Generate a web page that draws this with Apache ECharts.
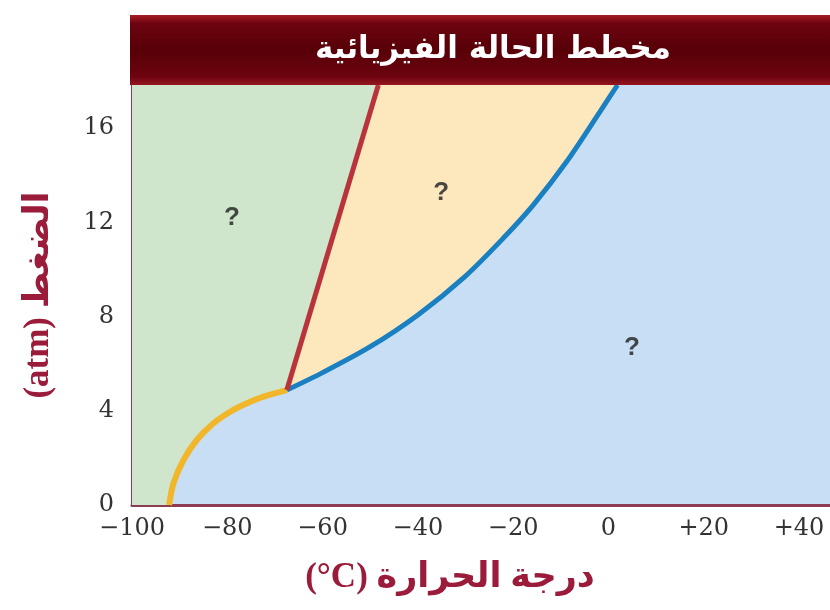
<!DOCTYPE html>
<html><head><meta charset="utf-8">
<script src="https://cdn.jsdelivr.net/npm/echarts@6/dist/echarts.min.js"></script>
<style>html,body{margin:0;padding:0;background:#fff}#c{width:830px;height:610px}</style>
</head><body><div id="c"></div><script>
// ---- data ----
const chartTitle = 'مخطط الحالة الفيزيائية';
const xAxisName = '(°C) درجة الحرارة';
const yAxisName = '(atm) الضغط';
const xTicks = [-100, -80, -60, -40, -20, 0, 20, 40];
const xTickLabels = ['−100', '−80', '−60', '−40', '−20', '0', '+20', '+40'];
const yTicks = [0, 4, 8, 12, 16];
const yTickLabels = ['0', '4', '8', '12', '16'];
const xRange = [-100, 46.5];
const yRange = [0, 17.83];
// sublimation curve (solid / gas)
const sublimationCurve = [[-92.2, 0], [-91.3, 0.92], [-89.2, 1.91], [-86.4, 2.76], [-82.9, 3.47], [-79.4, 3.96], [-75.9, 4.32], [-72.4, 4.60], [-67.5, 4.88]];
// melting line (solid / liquid)
const meltingLine = [[-67.5, 4.88], [-48.3, 17.83]];
// vaporization curve (liquid / gas)
const vaporizationCurve = [[-67.5, 4.88], [-60.0, 5.62], [-50.0, 6.72], [-40.0, 8.07], [-30.0, 9.72], [-22.1, 11.32], [-15.8, 12.73], [-8.8, 14.57], [-1.8, 16.69], [1.9, 17.83]];
// phase labels
const phaseLabels = [[-79.0, 12.18, '?'], [-35.1, 13.24, '?'], [4.95, 6.66, '?']];

const C = {
  solid: '#cfe6cc', liquid: '#fde8bd', gas: '#c8def4',
  subl: '#f2b62a', melt: '#b8333a', vap: '#1a80c2', axis: '#8c3b52', name: '#9b1b3b'
};

function tickFmt(ticks, labels) {
  return function (v) {
    for (let i = 0; i < ticks.length; i++) if (Math.abs(ticks[i] - v) < 1e-6) return labels[i];
    return '';
  };
}

const chart = echarts.init(document.getElementById('c'), null, { renderer: 'canvas' });
const solidFill = [[xRange[0], 0]].concat(sublimationCurve, [meltingLine[1]]);

chart.setOption({
  animation: false,
  backgroundColor: '#ffffff',
  grid: { left: 132, right: 0, top: 85, bottom: 105, show: true, backgroundColor: C.gas, borderWidth: 0 },
  xAxis: {
    type: 'value', min: xRange[0], max: xRange[1], interval: 20,
    axisLine: { show: true, onZero: false, lineStyle: { color: C.axis, width: 3 } },
    axisTick: { show: false }, splitLine: { show: false },
    axisLabel: { formatter: tickFmt(xTicks, xTickLabels), margin: 12, color: '#333', fontFamily: 'DejaVu Serif', fontSize: 24, showMaxLabel: false },
    name: xAxisName, nameLocation: 'middle', nameGap: 55,
    nameTextStyle: { color: C.name, fontFamily: '"Liberation Serif", "DejaVu Sans"', fontWeight: 'bold', fontSize: 35, padding: [0, 62, 0, 0] }
  },
  yAxis: {
    type: 'value', min: yRange[0], max: yRange[1], interval: 4,
    axisLine: { show: true, onZero: false, lineStyle: { color: C.axis, width: 3 } },
    axisTick: { show: false }, splitLine: { show: false },
    axisLabel: { formatter: tickFmt(yTicks, yTickLabels), margin: 18, color: '#333', fontFamily: 'DejaVu Serif', fontSize: 24, showMaxLabel: false },
    name: yAxisName, nameLocation: 'middle', nameGap: 76, nameRotate: 90,
    nameTextStyle: { color: C.name, fontFamily: '"Liberation Serif", "DejaVu Sans"', fontWeight: 'bold', fontSize: 35 }
  },
  graphic: [
    { type: 'rect', z: 10, shape: { x: 130, y: 15, width: 700, height: 70 },
      style: { fill: new echarts.graphic.LinearGradient(0, 0, 0, 1, [
        { offset: 0, color: '#a81c26' }, { offset: 0.12, color: '#6c0410' },
        { offset: 0.5, color: '#580007' }, { offset: 0.88, color: '#6c0410' }, { offset: 1, color: '#961520' }]) } },
    { type: 'text', z: 11, x: 493, y: 50,
      style: { text: chartTitle, align: 'center', verticalAlign: 'middle', fill: '#ffffff',
        font: 'bold 31px "DejaVu Sans"', shadowColor: 'rgba(0,0,0,0.6)', shadowBlur: 3 } }
  ],
  series: [
    { type: 'line', data: vaporizationCurve, symbol: 'none', lineStyle: { width: 0 },
      areaStyle: { origin: 'end', color: C.liquid, opacity: 1 }, z: 1 },
    { type: 'line', data: solidFill, symbol: 'none', lineStyle: { width: 0 },
      areaStyle: { origin: 'end', color: C.solid, opacity: 1 }, z: 2 },
    { type: 'line', data: sublimationCurve, symbol: 'none', smooth: 0.3, lineStyle: { width: 6, color: C.subl }, z: 3 },
    { type: 'line', data: vaporizationCurve, symbol: 'none', smooth: 0.3, lineStyle: { width: 5, color: C.vap }, z: 4 },
    { type: 'line', data: meltingLine, symbol: 'none', lineStyle: { width: 5, color: C.melt }, z: 5 },
    { type: 'scatter', data: phaseLabels, symbolSize: 1, itemStyle: { color: 'rgba(0,0,0,0)' }, z: 6,
      label: { show: true, position: 'inside', formatter: p => p.data[2], color: '#1e1e1e',
        fontFamily: 'Liberation Sans', fontWeight: 'bold', fontSize: 26 } }
  ]
});
</script></body></html>
